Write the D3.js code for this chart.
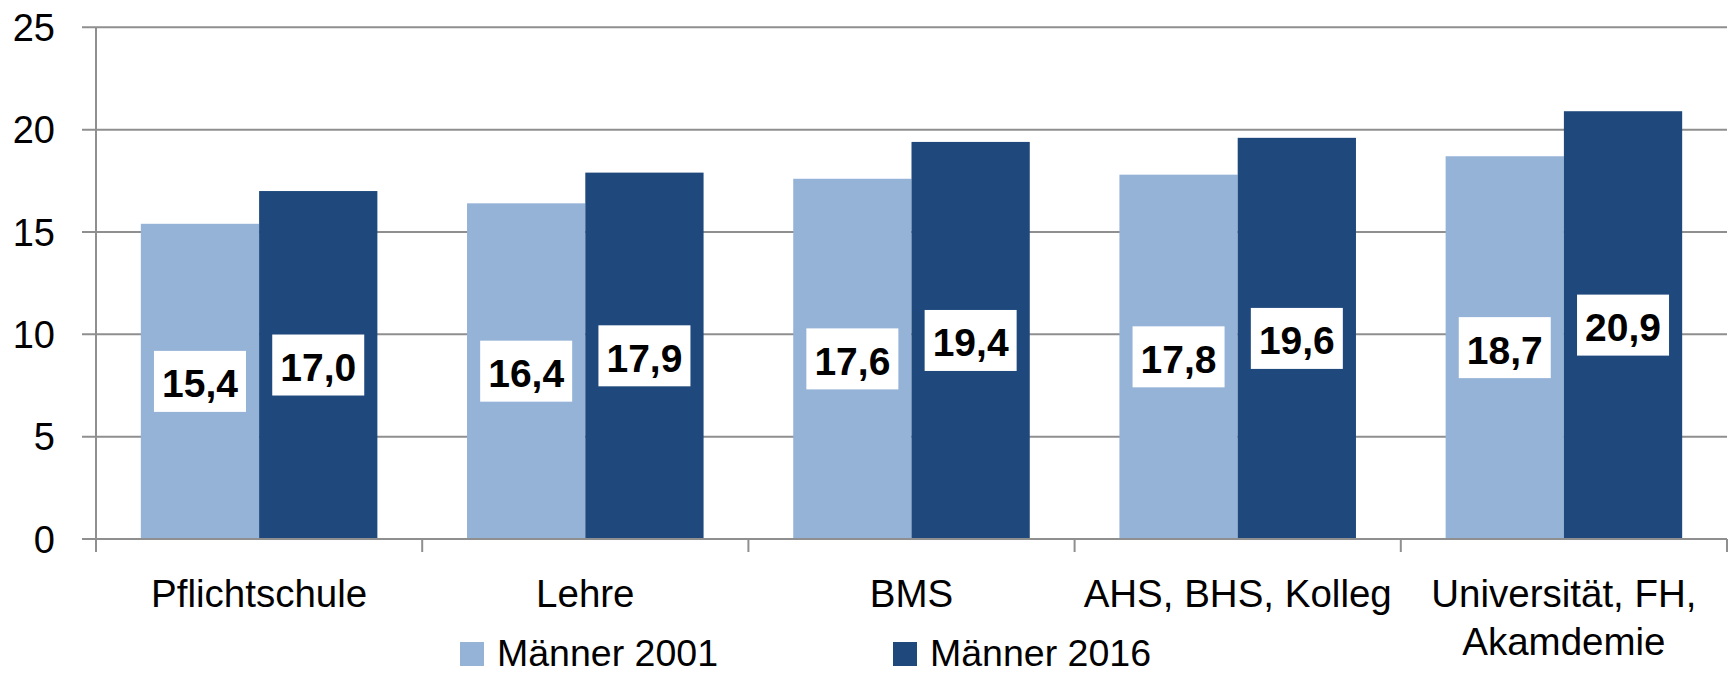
<!DOCTYPE html>
<html>
<head>
<meta charset="utf-8">
<script src="https://cdn.jsdelivr.net/npm/d3@7/dist/d3.min.js"></script>
<style>
  html, body { margin: 0; padding: 0; background: #fff; }
  svg { display: block; font-family: "Liberation Sans", Arial, sans-serif; }
</style>
</head>
<body>
<svg id="chart" width="1729" height="676"></svg>
<script>
const categories = ["Pflichtschule", "Lehre", "BMS", "AHS, BHS, Kolleg", "Universität, FH,\nAkamdemie"];
const seriesNames = ["Männer 2001", "Männer 2016"];
const values2001 = [15.4, 16.4, 17.6, 17.8, 18.7];
const values2016 = [17.0, 17.9, 19.4, 19.6, 20.9];
const yTicks = [0, 5, 10, 15, 20, 25];
const colors = ["#95b3d7", "#1f497d"];

(function () {
const svg = d3.select("#chart");
const plotLeft = 96, plotRight = 1727, plotTop = 27.3, plotBottom = 539;
const gridColor = "#8f8f8f";

const y = d3.scaleLinear().domain([0, 25]).range([plotBottom, plotTop]);
const x0 = d3.scaleBand().domain(categories).range([plotLeft, plotRight]).padding(0);
const x1 = d3.scaleBand().domain(seriesNames).range([0, x0.bandwidth()]).paddingInner(0).paddingOuter(0.379);
const color = d3.scaleOrdinal().domain(seriesNames).range(colors);

const data = categories.map((c, i) => ({
  cat: c,
  vals: [ {s: seriesNames[0], v: values2001[i]}, {s: seriesNames[1], v: values2016[i]} ]
}));

// gridlines
svg.append("g")
  .selectAll("line")
  .data(yTicks)
  .join("line")
  .attr("x1", plotLeft - 14).attr("x2", plotRight)
  .attr("y1", d => y(d)).attr("y2", d => y(d))
  .attr("stroke", gridColor).attr("stroke-width", 2);

// y axis labels
const yAxis = d3.axisLeft(y).tickValues(yTicks).tickSize(14).tickPadding(27).tickFormat(d3.format("d"));
const yg = svg.append("g").attr("transform", `translate(${plotLeft},0)`).call(yAxis);
yg.select(".domain").remove();
yg.selectAll(".tick line").remove();
yg.selectAll(".tick text")
  .attr("font-size", 38).attr("fill", "#000")
  .attr("font-family", "Liberation Sans, Arial, sans-serif")
  .attr("dy", "0.35em");

// bars
const groups = svg.append("g").selectAll("g")
  .data(data).join("g")
  .attr("transform", d => `translate(${x0(d.cat)},0)`);
groups.selectAll("rect")
  .data(d => d.vals).join("rect")
  .attr("x", d => x1(d.s))
  .attr("width", x1.bandwidth())
  .attr("y", d => y(d.v))
  .attr("height", d => y(0) - y(d.v))
  .attr("fill", d => color(d.s));

// y axis line
svg.append("line")
  .attr("x1", plotLeft).attr("x2", plotLeft)
  .attr("y1", y(25)).attr("y2", plotBottom + 13)
  .attr("stroke", gridColor).attr("stroke-width", 2);
// x axis line
svg.append("line")
  .attr("x1", plotLeft - 14).attr("x2", plotRight)
  .attr("y1", plotBottom).attr("y2", plotBottom)
  .attr("stroke", gridColor).attr("stroke-width", 2);
// category boundary ticks
const bounds = categories.map(c => x0(c)).concat([x0.range()[1]]);
svg.append("g").selectAll("line")
  .data(bounds).join("line")
  .attr("x1", d => d).attr("x2", d => d)
  .attr("y1", plotBottom).attr("y2", plotBottom + 13)
  .attr("stroke", gridColor).attr("stroke-width", 2);

// category labels
const xAxis = d3.axisBottom(x0).tickSize(0).tickPadding(0);
const xg = svg.append("g").attr("transform", `translate(0,${plotBottom})`).call(xAxis);
xg.select(".domain").remove();
xg.selectAll(".tick text").each(function(d) {
  const t = d3.select(this);
  t.text(null).attr("y", 0).attr("dy", null)
    .attr("font-size", 38.5).attr("fill", "#000")
    .attr("font-family", "Liberation Sans, Arial, sans-serif");
  d.split("\n").forEach((line, i) => {
    t.append("tspan").attr("x", 0).attr("y", 68 + i * 47.5).text(line);
  });
});

// data labels
const fmt = v => d3.format(".1f")(v).replace(".", ",");
const lbl = groups.selectAll("g.lbl")
  .data(d => d.vals).join("g").attr("class", "lbl")
  .attr("transform", d => `translate(${x1(d.s) + x1.bandwidth() / 2},${(y(d.v) + y(0)) / 2})`);
lbl.append("rect")
  .attr("x", -46).attr("y", -30.5).attr("width", 92).attr("height", 61)
  .attr("fill", "#fff");
lbl.append("text")
  .attr("text-anchor", "middle")
  .attr("y", 16)
  .attr("font-size", 39).attr("font-weight", "bold").attr("fill", "#000")
  .text(d => fmt(d.v));

// legend
const legend = svg.append("g").selectAll("g")
  .data(seriesNames).join("g")
  .attr("transform", (d, i) => `translate(${[460, 893][i]},0)`);
legend.append("rect")
  .attr("x", 0).attr("y", 642).attr("width", 24).attr("height", 24)
  .attr("fill", d => color(d));
legend.append("text")
  .attr("x", 37).attr("y", 666)
  .attr("font-size", 37.5).attr("fill", "#000")
  .text(d => d);
})();
</script>
</body>
</html>
